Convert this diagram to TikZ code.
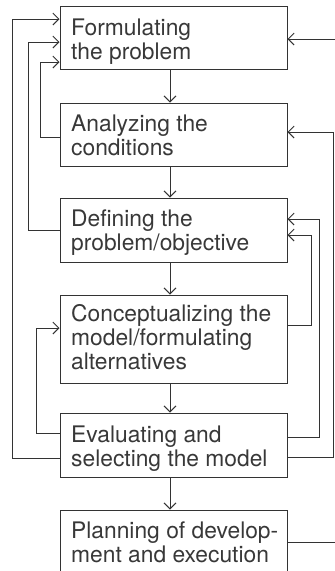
\documentclass[tikz,border=0pt]{standalone}
\usepackage{fontspec}
\setmainfont{TeX Gyre Heros}
\usetikzlibrary{arrows.meta}
\begin{document}
\begin{tikzpicture}[x=1pt,y=-1pt,
  box/.style={draw=black!80, line width=1pt, minimum width=227pt, inner sep=0pt},
  lbl/.style={anchor=base west, inner sep=0pt, text=black!78, font=\fontsize{22.8}{24}\selectfont},
  conn/.style={draw=black!80, line width=0.9pt},
  arr/.style={conn, -{Straight Barb[length=6pt,width=12pt]}}]
\useasboundingbox (0,0) rectangle (335,571);
% boxes
\node[box, minimum height=63pt] (b1) at (173.5,37.5) {};
\node[box, minimum height=63pt] (b2) at (173.5,134.5) {};
\node[box, minimum height=64pt] (b3) at (173.5,230) {};
\node[box, minimum height=88pt] (b4) at (173.5,339) {};
\node[box, minimum height=64pt] (b5) at (173.5,445) {};
\node[box, minimum height=74pt] (b6) at (173.5,547) {};
% labels
\node[lbl] (t1a) at (71,35) {Formulating};
\node[lbl] (t1b) at (71,59.5) {the problem};
\node[lbl] (t2a) at (71,131) {Analyzing the};
\node[lbl] (t2b) at (71,155) {conditions};
\node[lbl] (t3a) at (71,226) {Defining the};
\node[lbl] (t3b) at (71,250) {problem/objective};
\node[lbl] (t4a) at (71,321.5) {Conceptualizing the};
\node[lbl] (t4b) at (71,345.5) {model/formulating};
\node[lbl] (t4c) at (71,369.5) {alternatives};
\node[lbl] (t5a) at (71,442) {Evaluating and};
\node[lbl] (t5b) at (71,466) {selecting the model};
\node[lbl] (t6a) at (71,538) {Planning of develop-};
\node[lbl] (t6b) at (71,562) {ment and execution};
% main flow
\coordinate (ax) at (170,0);
\draw[arr] (b1.south -| ax) -- (b2.north -| ax);
\draw[arr] (b2.south -| ax) -- (b3.north -| ax);
\draw[arr] (b3.south -| ax) -- (b4.north -| ax);
\draw[arr] (b4.south -| ax) -- (b5.north -| ax);
\draw[arr] (b5.south -| ax) -- (b6.north -| ax);
% left feedback
\draw[arr] ([yshift=-13pt]b5.west) -- ++(-47,0) |- ([yshift=18.5pt]b1.west);
\draw[arr] (b3.west) -- ++(-31,0) |- ([yshift=-4.5pt]b1.west);
\draw[arr] ([yshift=-2.5pt]b2.west) -- ++(-19,0) |- ([yshift=-24.5pt]b1.west);
\draw[arr] ([yshift=12pt]b5.west) -- ++(-23,0) |- ([yshift=11pt]b4.west);
% right feedback
\coordinate (e1) at (335,39);
\draw[arr] (e1) -- (b1.east |- e1);
\draw[arr] ([yshift=-12pt]b5.east) -- ++(46,0) |- ([yshift=2.5pt]b2.east);
\draw[arr] ([yshift=8pt]b5.east) -- ++(32,0) |- ([yshift=11pt]b3.east);
\draw[arr] ([yshift=14pt]b4.east) -- ++(24,0) |- ([yshift=-5pt]b3.east);
\coordinate (e2) at (335,542);
\draw[conn] (b6.east |- e2) -- (e2);
\end{tikzpicture}
\end{document}
